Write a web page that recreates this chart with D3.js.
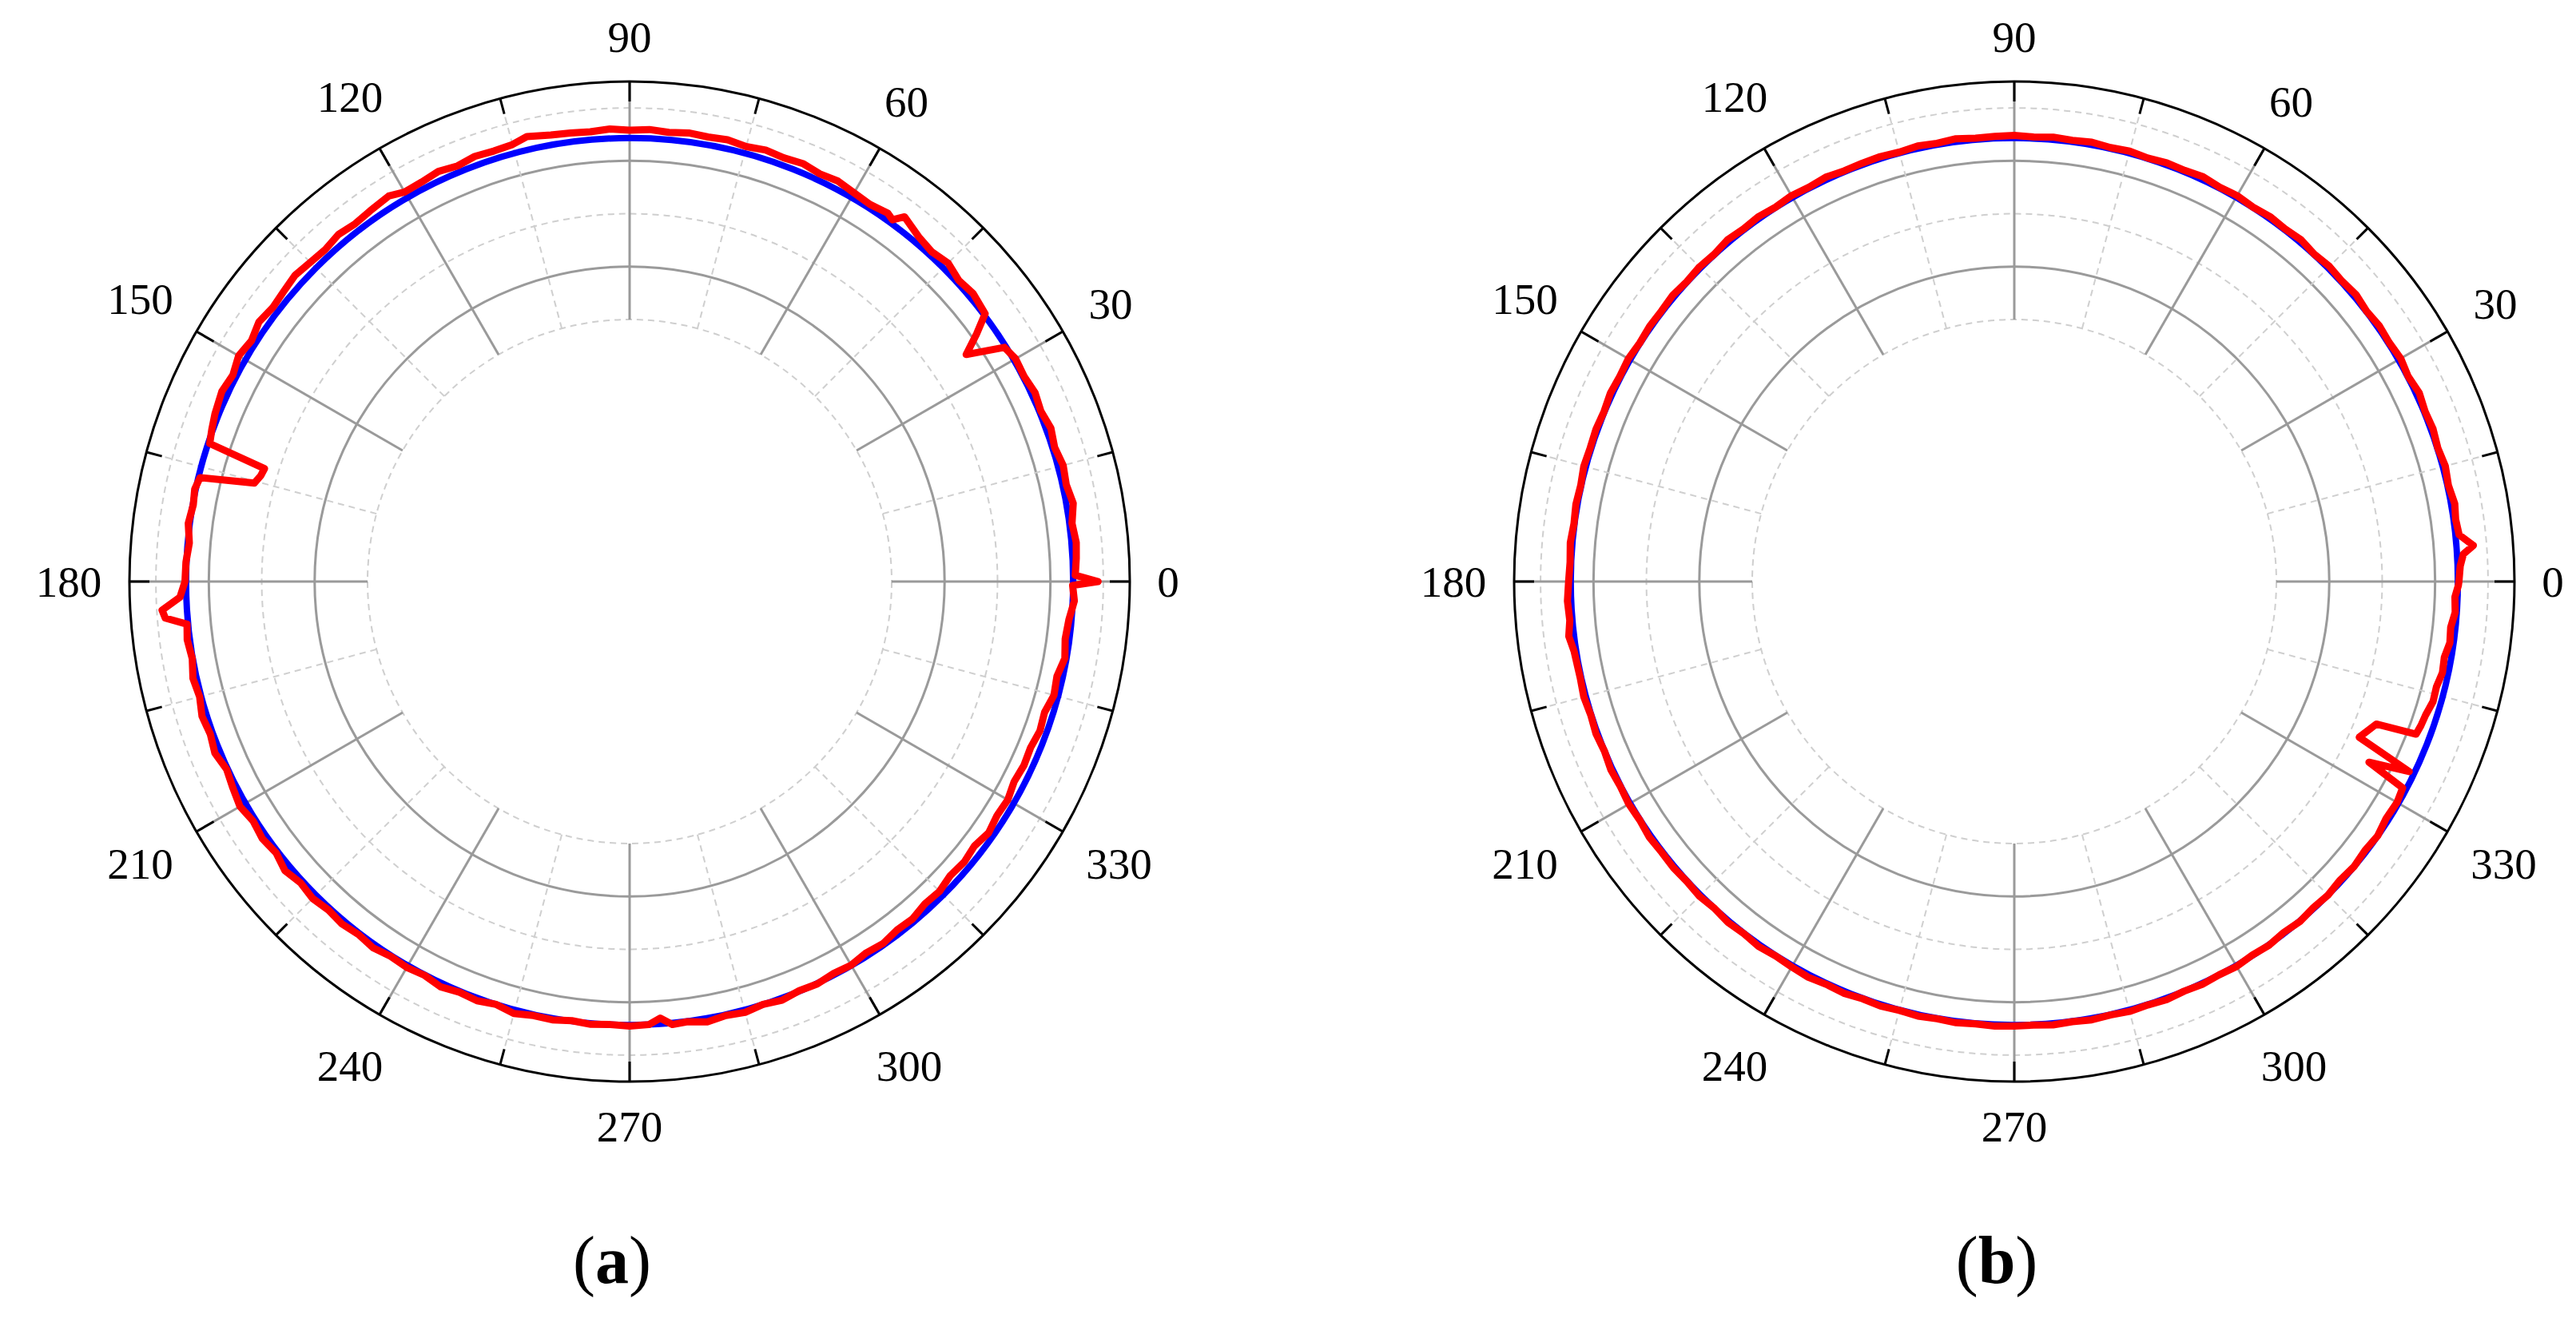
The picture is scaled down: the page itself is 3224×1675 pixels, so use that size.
<!DOCTYPE html>
<html>
<head>
<meta charset="utf-8">
<script src="https://cdn.jsdelivr.net/npm/d3@7"></script>
<style>
  body { margin: 0; background: #fff; }
  text { font-family: "Liberation Serif", "DejaVu Serif", serif; }
</style>
</head>
<body>
<svg id="chart" width="3224" height="1675"></svg>
<script>
// angle ticks and radial rings
const angleLabels = [0, 30, 60, 90, 120, 150, 180, 210, 240, 270, 300, 330];
const minorAngles = [15, 45, 75, 105, 135, 165, 195, 225, 255, 285, 315, 345];
const solidRings = [1, 3];
const dashedRings = [0, 2, 4];
const blueValue = 3.43;

// red measured curve, panel (a): [angle, value]
const redA = [
  [0, 3.9], [0.8, 3.47], [3, 3.5], [5, 3.52], [7.5, 3.48], [10, 3.56], [12.5, 3.5], [15, 3.53],
  [17.5, 3.47], [20, 3.52], [22.5, 3.46], [25, 3.5], [27.5, 3.45], [30, 3.47], [32, 3.4],
  [34, 2.72], [35.5, 3.1], [37, 3.46], [40, 3.52], [42.5, 3.48], [45, 3.56], [47.5, 3.5],
  [50, 3.55], [53, 3.68], [54, 3.5], [55, 3.55], [57.5, 3.5], [60, 3.53], [62.5, 3.58],
  [65, 3.55], [67.5, 3.6], [70, 3.57], [72.5, 3.6], [75, 3.56], [77.5, 3.6], [80, 3.58],
  [82.5, 3.6], [85, 3.57], [87.5, 3.6], [90, 3.58], [92.5, 3.61], [95, 3.58], [97.5, 3.6],
  [100, 3.62], [103, 3.68], [105, 3.6], [107.5, 3.58], [110, 3.6], [112.5, 3.55], [115, 3.6],
  [117.5, 3.56], [120, 3.55], [122, 3.64], [125, 3.6], [127.5, 3.57], [130, 3.61], [132.5, 3.56],
  [135, 3.58], [137.5, 3.62], [140, 3.58], [142.5, 3.55], [145, 3.6], [147.5, 3.52], [150, 3.58],
  [152.5, 3.5], [155, 3.55], [158, 3.5], [160, 3.45], [161.8, 3.4], [162.8, 2.27], [164, 2.3],
  [165.3, 2.38], [166.4, 3.4], [168, 3.45], [170, 3.42], [172.5, 3.46], [175, 3.4], [177.5, 3.44],
  [180, 3.45], [182, 3.55], [183.5, 3.9], [184.5, 3.85], [185.5, 3.45], [187.5, 3.48], [190, 3.44],
  [192.5, 3.5], [195, 3.46], [197.5, 3.52], [200, 3.48], [202.5, 3.53], [205, 3.45], [207.5, 3.5],
  [210, 3.55], [212.5, 3.48], [215, 3.52], [217.5, 3.47], [220, 3.55], [222.5, 3.48], [225, 3.52],
  [227.5, 3.47], [230, 3.5], [232.5, 3.46], [235, 3.5], [237.5, 3.45], [240, 3.47], [242.5, 3.44],
  [245, 3.5], [247.5, 3.45], [250, 3.48], [252.5, 3.43], [255, 3.5], [257.5, 3.45], [260, 3.46],
  [262.5, 3.42], [265, 3.45], [267.5, 3.43], [270, 3.45], [272.5, 3.43], [274, 3.32], [275.5, 3.46],
  [277.5, 3.44], [280, 3.5], [282.5, 3.45], [285, 3.48], [287.5, 3.43], [290, 3.47], [292.5, 3.42],
  [295, 3.44], [297.5, 3.4], [300, 3.42], [302.5, 3.37], [305, 3.4], [307.5, 3.35], [310, 3.37],
  [312.5, 3.31], [315, 3.33], [317.5, 3.27], [320, 3.3], [322.5, 3.26], [325, 3.33], [327.5, 3.28],
  [330, 3.3], [332.5, 3.24], [335, 3.27], [337.5, 3.25], [340, 3.3], [342.5, 3.27], [345, 3.35],
  [347.5, 3.32], [350, 3.4], [352.5, 3.35], [355, 3.38], [357.5, 3.46], [359.5, 3.42]
];

// red measured curve, panel (b): [angle, value]
const redB = [
  [0, 3.45], [2, 3.48], [3.5, 3.55], [4.5, 3.75], [6, 3.5], [8, 3.47], [10, 3.5], [12.5, 3.45],
  [15, 3.48], [17.5, 3.44], [20, 3.47], [22.5, 3.45], [25, 3.49], [27.5, 3.44], [30, 3.48],
  [32.5, 3.45], [35, 3.47], [37.5, 3.44], [40, 3.48], [42.5, 3.45], [45, 3.47], [47.5, 3.44],
  [50, 3.48], [52.5, 3.45], [55, 3.47], [57.5, 3.44], [60, 3.47], [62.5, 3.45], [65, 3.49],
  [67.5, 3.46], [70, 3.47], [72.5, 3.44], [75, 3.47], [77.5, 3.45], [80, 3.48], [82.5, 3.46],
  [85, 3.48], [87.5, 3.46], [90, 3.48], [92.5, 3.47], [95, 3.46], [97.5, 3.49], [100, 3.46],
  [102.5, 3.48], [105, 3.45], [107.5, 3.47], [110, 3.46], [112.5, 3.45], [115, 3.48], [117.5, 3.45],
  [120, 3.47], [122.5, 3.44], [125, 3.47], [127.5, 3.45], [130, 3.48], [132.5, 3.44], [135, 3.46],
  [137.5, 3.44], [140, 3.47], [142.5, 3.45], [145, 3.46], [147.5, 3.44], [150, 3.47], [152.5, 3.45],
  [155, 3.47], [157.5, 3.44], [160, 3.46], [162.5, 3.45], [165, 3.47], [167.5, 3.44], [170, 3.46],
  [172.5, 3.44], [175, 3.47], [177.5, 3.45], [180, 3.47], [182.5, 3.5], [185, 3.48], [187, 3.53],
  [189, 3.47], [192.5, 3.45], [195, 3.47], [197.5, 3.44], [200, 3.46], [202.5, 3.43], [205, 3.46],
  [207.5, 3.44], [210, 3.46], [212.5, 3.44], [215, 3.47], [217.5, 3.45], [220, 3.46], [222.5, 3.44],
  [225, 3.46], [227.5, 3.43], [230, 3.46], [232.5, 3.44], [235, 3.47], [237.5, 3.44], [240, 3.46],
  [242.5, 3.48], [245, 3.45], [247.5, 3.47], [250, 3.44], [252.5, 3.46], [255, 3.44], [257.5, 3.46],
  [260, 3.44], [262.5, 3.46], [265, 3.44], [267.5, 3.46], [270, 3.45], [272.5, 3.44], [275, 3.46],
  [277.5, 3.44], [280, 3.46], [282.5, 3.44], [285, 3.46], [287.5, 3.44], [290, 3.46], [292.5, 3.43],
  [295, 3.45], [297.5, 3.43], [300, 3.45], [302.5, 3.42], [305, 3.44], [307.5, 3.41], [310, 3.44],
  [312.5, 3.41], [315, 3.43], [317.5, 3.4], [320, 3.43], [322.5, 3.4], [325, 3.43], [327.5, 3.38],
  [330, 3.4], [332, 3.36], [333, 2.57], [334.3, 3.33], [335.7, 2.2], [338.5, 2.4], [339.2, 3.17],
  [340.5, 3.2], [342, 3.22], [344, 3.28], [346, 3.27], [348, 3.32], [350, 3.3], [352, 3.36],
  [354, 3.34], [356, 3.4], [358, 3.38], [359.5, 3.44]
];

const panels = [
  { cx: 788, cy: 728, data: redA, label: "a" },
  { cx: 2521, cy: 728, data: redB, label: "b" }
];

const svg = d3.select("#chart");
const rOuter = 626;
// radial scale: value -> pixel radius
const r = d3.scaleLinear().domain([0, 4.5]).range([328, rOuter]);
const rad = (deg) => (deg * Math.PI) / 180;

function drawPanel(p) {
  const g = svg.append("g").attr("transform", `translate(${p.cx},${p.cy})`);

  //Rings
  g.selectAll(".dring").data(dashedRings).join("circle")
    .attr("r", (d) => r(d)).attr("fill", "none")
    .attr("stroke", "#cfcfcf").attr("stroke-width", 2).attr("stroke-dasharray", "8,6");
  g.selectAll(".sring").data(solidRings).join("circle")
    .attr("r", (d) => r(d)).attr("fill", "none")
    .attr("stroke", "#9a9a9a").attr("stroke-width", 3);

  //Spokes
  g.selectAll(".minor").data(minorAngles).join("line")
    .attr("x1", (d) => r(0) * Math.cos(rad(d))).attr("y1", (d) => -r(0) * Math.sin(rad(d)))
    .attr("x2", (d) => rOuter * Math.cos(rad(d))).attr("y2", (d) => -rOuter * Math.sin(rad(d)))
    .attr("stroke", "#cfcfcf").attr("stroke-width", 2).attr("stroke-dasharray", "8,6");
  g.selectAll(".major").data(angleLabels).join("line")
    .attr("x1", (d) => r(0) * Math.cos(rad(d))).attr("y1", (d) => -r(0) * Math.sin(rad(d)))
    .attr("x2", (d) => rOuter * Math.cos(rad(d))).attr("y2", (d) => -rOuter * Math.sin(rad(d)))
    .attr("stroke", "#9a9a9a").attr("stroke-width", 3);

  //Outer ticks
  g.selectAll(".tmaj").data(angleLabels).join("line")
    .attr("x1", (d) => (rOuter - 25) * Math.cos(rad(d))).attr("y1", (d) => -(rOuter - 25) * Math.sin(rad(d)))
    .attr("x2", (d) => rOuter * Math.cos(rad(d))).attr("y2", (d) => -rOuter * Math.sin(rad(d)))
    .attr("stroke", "#000").attr("stroke-width", 3);
  g.selectAll(".tmin").data(minorAngles).join("line")
    .attr("x1", (d) => (rOuter - 20) * Math.cos(rad(d))).attr("y1", (d) => -(rOuter - 20) * Math.sin(rad(d)))
    .attr("x2", (d) => rOuter * Math.cos(rad(d))).attr("y2", (d) => -rOuter * Math.sin(rad(d)))
    .attr("stroke", "#000").attr("stroke-width", 3);
  g.append("circle").attr("r", rOuter).attr("fill", "none")
    .attr("stroke", "#000").attr("stroke-width", 3);

  //Angle labels
  const labelR = (d) => 660 + Math.abs(Math.cos(rad(d))) * String(d).length * 14 + Math.abs(Math.sin(rad(d))) * 22;
  g.selectAll(".alab").data(angleLabels).join("text")
    .attr("x", (d) => labelR(d) * Math.cos(rad(d)))
    .attr("y", (d) => -labelR(d) * Math.sin(rad(d)))
    .attr("text-anchor", "middle").attr("dominant-baseline", "central")
    .attr("font-size", 55).text((d) => d);

  //Reference circle
  g.append("circle").attr("r", r(blueValue)).attr("fill", "none")
    .attr("stroke", "#0000ff").attr("stroke-width", 8);

  //Measured curve
  const line = d3.lineRadial()
    .angle((d) => rad(90 - d[0]))
    .radius((d) => r(d[1]));
  g.append("path").datum(p.data.concat([p.data[0]]))
    .attr("d", line).attr("fill", "none")
    .attr("stroke", "#ff0000").attr("stroke-width", 9)
    .attr("stroke-linejoin", "round").attr("stroke-linecap", "round");

  //Panel label
  const t = g.append("text").attr("x", -22).attr("y", 878)
    .attr("text-anchor", "middle").attr("font-size", 84);
  t.append("tspan").text("(");
  t.append("tspan").attr("font-weight", "bold").text(p.label);
  t.append("tspan").text(")");
}

panels.forEach(drawPanel);
</script>
</body>
</html>
